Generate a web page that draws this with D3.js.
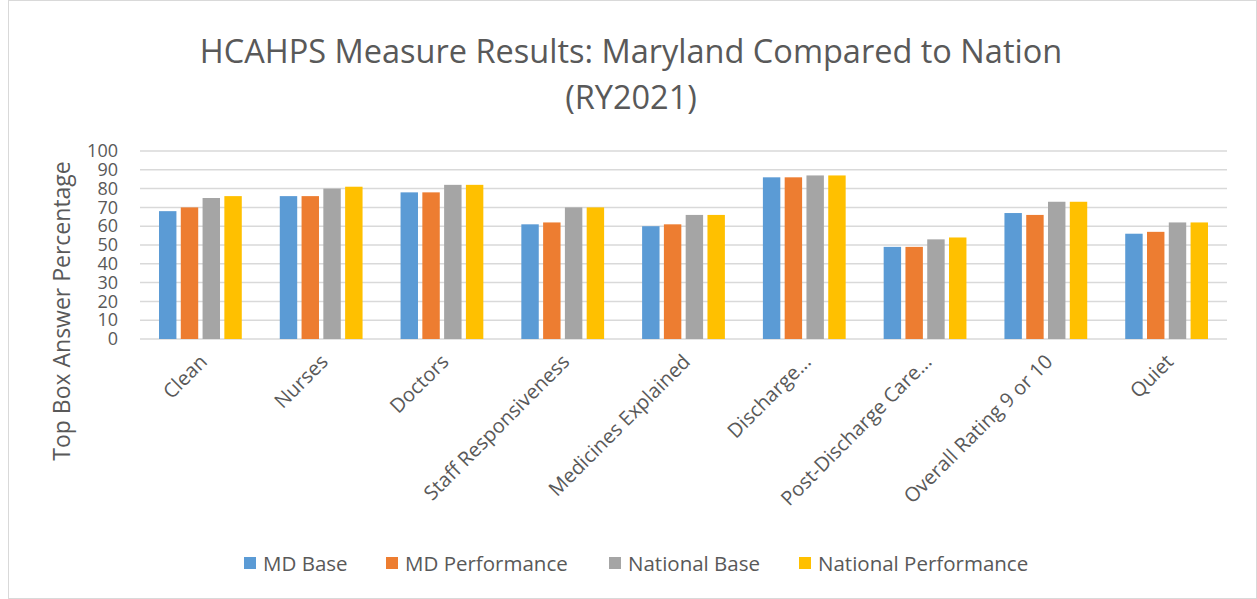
<!DOCTYPE html>
<html>
<head>
<meta charset="utf-8">
<script src="https://cdn.jsdelivr.net/npm/d3@7"></script>
<style>
  body { margin: 0; background: #fff; }
  text { font-family: "Open Sans", sans-serif; fill: #595959; }
</style>
</head>
<body>
<div id="chart"></div>
<script>
// chart data
var categories = ["Clean", "Nurses", "Doctors", "Staff Responsiveness", "Medicines Explained",
  "Discharge...", "Post-Discharge Care...", "Overall Rating 9 or 10", "Quiet"];
var seriesNames = ["MD Base", "MD Performance", "National Base", "National Performance"];
var mdBase = [68, 76, 78, 61, 60, 86, 49, 67, 56];
var mdPerformance = [70, 76, 78, 62, 61, 86, 49, 66, 57];
var nationalBase = [75, 80, 82, 70, 66, 87, 53, 73, 62];
var nationalPerformance = [76, 81, 82, 70, 66, 87, 54, 73, 62];
var yTicks = [0, 10, 20, 30, 40, 50, 60, 70, 80, 90, 100];
var colors = ["#5b9bd5", "#ed7d31", "#a5a5a5", "#ffc000"];

var svgWidth = 1257;
var svgHeight = 599;
var margin = { top: 151, right: 30, bottom: 260, left: 140 };
var width = 1227 - margin.left;
var height = 339 - margin.top;

var svg = d3.select("#chart").append("svg")
  .attr("width", svgWidth)
  .attr("height", svgHeight);

// outer frame
svg.append("rect")
  .attr("x", 8.5).attr("y", 0.5)
  .attr("width", svgWidth - 9).attr("height", svgHeight - 1)
  .attr("fill", "none")
  .attr("stroke", "#d9d9d9");

// title
svg.append("text")
  .attr("x", 631).attr("y", 63)
  .attr("text-anchor", "middle")
  .style("font-size", "32.5px")
  .text("HCAHPS Measure Results: Maryland Compared to Nation");
svg.append("text")
  .attr("x", 631).attr("y", 109)
  .attr("text-anchor", "middle")
  .style("font-size", "32.5px")
  .text("(RY2021)");

var chartGroup = svg.append("g")
  .attr("transform", `translate(${margin.left}, ${margin.top})`);

var data = categories.map(function(c, i) {
  return { cat: c, values: [mdBase[i], mdPerformance[i], nationalBase[i], nationalPerformance[i]] };
});

var x0 = d3.scaleBand().domain(categories).range([0, width]).paddingInner(0).paddingOuter(0);
var x1 = d3.scaleBand().domain(d3.range(4)).range([19, x0.bandwidth() - 19]).paddingInner(0.2);
var yScale = d3.scaleLinear().domain([0, 100]).range([height, 0]);

// gridlines
chartGroup.append("g")
  .selectAll("line")
  .data(yTicks)
  .enter().append("line")
  .attr("x1", 0).attr("x2", width)
  .attr("y1", d => yScale(d)).attr("y2", d => yScale(d))
  .attr("stroke", "#d9d9d9")
  .attr("stroke-width", 1.5);

// y axis labels
var yAxis = d3.axisLeft(yScale).tickValues(yTicks).tickSize(0).tickPadding(22);
var yAxisG = chartGroup.append("g").call(yAxis);
yAxisG.select(".domain").remove();
yAxisG.selectAll("text")
  .style("font-size", "18px")
  .style("font-family", "'Open Sans', sans-serif")
  .attr("fill", "#595959");

// bars
var groups = chartGroup.selectAll(".cat")
  .data(data)
  .enter().append("g")
  .attr("transform", d => `translate(${x0(d.cat)}, 0)`);

groups.selectAll("rect")
  .data(d => d.values)
  .enter().append("rect")
  .attr("x", (d, i) => x1(i))
  .attr("y", d => yScale(d))
  .attr("width", x1.bandwidth())
  .attr("height", d => height - yScale(d))
  .attr("fill", (d, i) => colors[i]);

// x labels, rotated
chartGroup.append("g")
  .selectAll("text")
  .data(categories)
  .enter().append("text")
  .attr("transform", d => `translate(${x0(d) + x0.bandwidth() / 2 + 8}, ${height + 24}) rotate(-45)`)
  .attr("text-anchor", "end")
  .style("font-size", "20px")
  .text(d => d);

// y axis title
svg.append("text")
  .attr("transform", "translate(70, 311) rotate(-90)")
  .attr("text-anchor", "middle")
  .style("font-size", "23px")
  .text("Top Box Answer Percentage");

// legend
var legendX = [244, 386, 609, 799];
var legend = svg.append("g");
seriesNames.forEach(function(name, i) {
  legend.append("rect")
    .attr("x", legendX[i]).attr("y", 557)
    .attr("width", 12).attr("height", 12)
    .attr("fill", colors[i]);
  legend.append("text")
    .attr("x", legendX[i] + 19).attr("y", 571)
    .style("font-size", "20.5px")
    .text(name);
});
</script>
</body>
</html>
